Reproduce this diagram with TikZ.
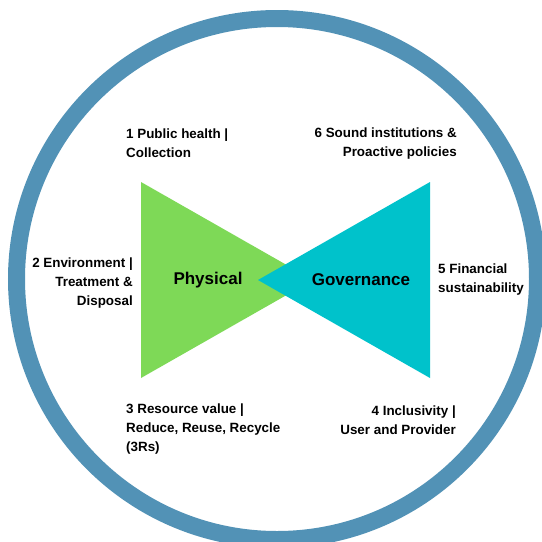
\documentclass[tikz,border=0pt]{standalone}
\usepackage{fontspec}
\setmainfont{Liberation Sans}
\usepackage{tikz}
\usepackage{xcolor}
\definecolor{ringcol}{RGB}{82,146,182}
\definecolor{physcol}{RGB}{126,217,87}
\definecolor{govcol}{RGB}{0,194,203}
\tikzstyle{lbl}=[font=\fontsize{13.4}{19}\selectfont\bfseries,inner sep=0]
\tikzstyle{big}=[font=\fontsize{17}{20}\selectfont\bfseries,inner sep=0]

\begin{document}
\begin{tikzpicture}[x=1pt,y=-1pt]
  \useasboundingbox (0,0) rectangle (542,542);
  \def\Rmid{260.5}
  \def\W{17}
  \coordinate (C) at (277,279);
  \coordinate (PA) at (141,182);
  \coordinate (PB) at (141,378);
  \coordinate (PC) at (313,280);
  \coordinate (GA) at (430,182);
  \coordinate (GB) at (430,378);
  \coordinate (GC) at (258,280);

  % ring
  \draw[ringcol,line width=\W] (C) circle[radius=\Rmid];

  % triangles
  \fill[physcol] (PA) -- (PB) -- (PC) -- cycle;
  \fill[govcol] (GA) -- (GB) -- (GC) -- cycle;

  \node[big] (phys) at (208,280) {Physical};
  \node[big] (gov) at (361,280) {Governance};

  % labels
  \node[lbl,anchor=west,align=left] (l1) at (126,143.5)
    {1 Public health |\\Collection};
  \node[lbl,anchor=east,align=right] (l2) at (133,283)
    {2 Environment |\\Treatment \&\\Disposal};
  \node[lbl,anchor=west,align=left] (l3) at (126,429)
    {3 Resource value |\\Reduce, Reuse, Recycle\\(3Rs)};
  \node[lbl,anchor=east,align=right] (l4) at (456,420)
    {4 Inclusivity |\\User and Provider};
  \node[lbl,anchor=west,align=left] (l5) at (438,279.5)
    {5 Financial\\sustainability};
  \node[lbl,anchor=east,align=right] (l6) at (457,143.5)
    {6 Sound institutions \&\\Proactive policies};
\end{tikzpicture}
\end{document}
